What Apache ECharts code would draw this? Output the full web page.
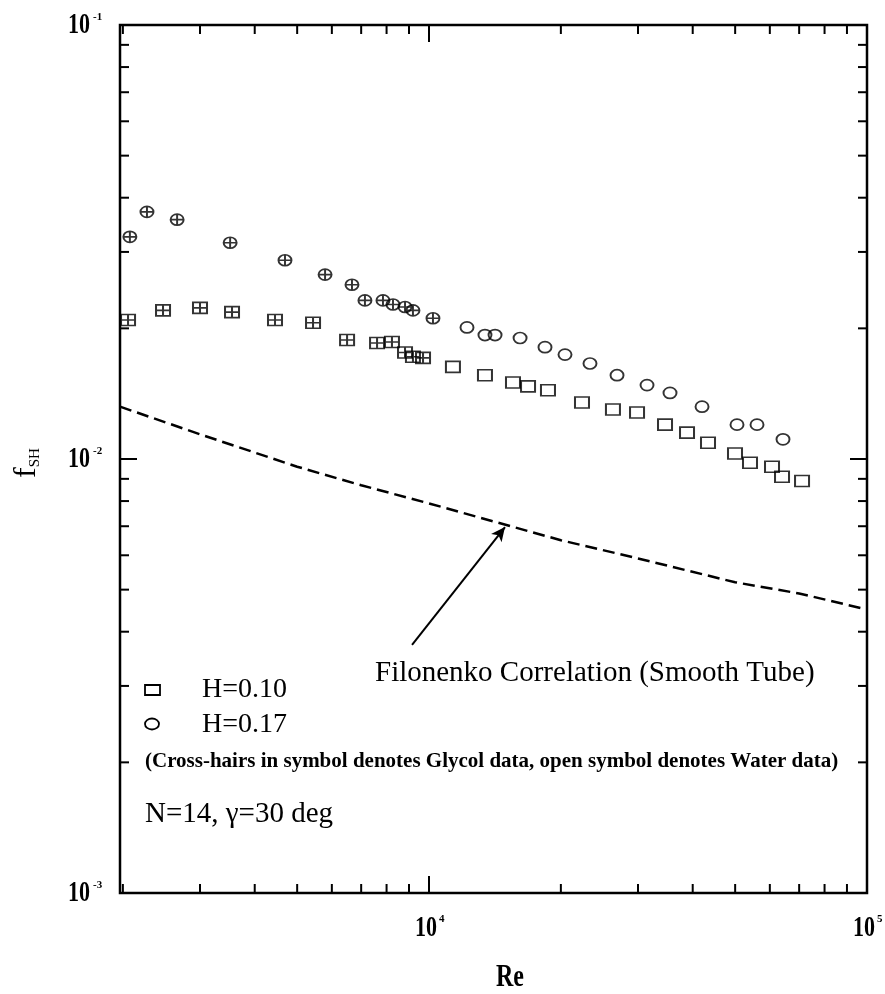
<!DOCTYPE html>
<html><head><meta charset="utf-8">
<script src="https://cdn.jsdelivr.net/npm/echarts@6/dist/echarts.min.js"></script>
<style>html,body{margin:0;padding:0;background:#fff}#c{width:885px;height:994px}</style>
</head><body><div id="c"></div>
<script>
// ---- data ----
const reH017Glycol = [2075, 2270, 2660, 3515, 4690, 5790, 6670, 7140, 7850, 8275, 8815, 9190, 10210];
const fH017Glycol  = [0.0325, 0.0371, 0.0356, 0.0315, 0.0287, 0.0266, 0.0252, 0.0232, 0.0232, 0.0227, 0.0224, 0.0220, 0.0211];
const reH017Water  = [12210, 13420, 14150, 16140, 18400, 20440, 23310, 26870, 31460, 35500, 42010, 50490, 56090, 64300];
const fH017Water   = [0.0201, 0.0193, 0.0193, 0.0190, 0.0181, 0.0174, 0.0166, 0.0156, 0.0148, 0.0142, 0.0132, 0.0120, 0.0120, 0.0111];
const reH010Glycol = [2055, 2470, 3000, 3550, 4450, 5435, 6500, 7610, 8230, 8815, 9190, 9690];
const fH010Glycol  = [0.0209, 0.0220, 0.0223, 0.0218, 0.0209, 0.0206, 0.0188, 0.0185, 0.0186, 0.0176, 0.0172, 0.0171];
const reH010Water  = [11340, 13420, 15550, 16830, 18690, 22350, 26300, 29850, 34580, 38820, 43350, 49960, 54060, 60690, 63970, 71070];
const fH010Water   = [0.0163, 0.0156, 0.0150, 0.0147, 0.0144, 0.0135, 0.0130, 0.0128, 0.0120, 0.0115, 0.0109, 0.0103, 0.0098, 0.0096, 0.0091, 0.0089];
const reFilonenko  = [1970, 3000, 5000, 7000, 10000, 20000, 30000, 50000, 70000, 100000];
const fFilonenko   = [0.0132, 0.0114, 0.0096, 0.0087, 0.0079, 0.0065, 0.0059, 0.0052, 0.0049, 0.0045];
const arrowFrom    = [9146, 0.00373];
const arrowTo      = [14910, 0.00697];

const xMajorTicks = [10000, 100000];
const xMinorTicks = [2000, 3000, 4000, 5000, 6000, 7000, 8000, 9000, 20000, 30000, 40000, 50000, 60000, 70000, 80000, 90000];
const yMajorTicks = [0.001, 0.01, 0.1];
const yMinorTicks = [0.002, 0.003, 0.004, 0.005, 0.006, 0.007, 0.008, 0.009, 0.02, 0.03, 0.04, 0.05, 0.06, 0.07, 0.08, 0.09];
const xTickValues = [10000, 100000];
const xTickExps   = ['4', '5'];
const yTickValues = [0.1, 0.01, 0.001];
const yTickExps   = ['-1', '-2', '-3'];

const X_MIN = 1970, X_MAX = 100000, Y_MIN = 0.001, Y_MAX = 0.1;
const FONT = '"Liberation Serif", "DejaVu Serif", serif';

const zip = (a, b) => a.map((v, i) => [v, b[i]]);
const crossCircle = 'path://M5,0A5,5,0,1,1,5,10A5,5,0,1,1,5,0Z M5,0L5,10 M0,5L10,5';
const crossSquare = 'path://M0,0L10,0L10,10L0,10Z M5,0L5,10 M0,5L10,5';
const markStyle = { color: 'rgba(0,0,0,0)', borderColor: '#000', borderWidth: 1.8 };

function txt(x, y, text, size, opts) {
  opts = opts || {};
  return {
    type: 'text', x: x, y: y, scaleX: opts.sx || 1, scaleY: opts.sy || 1, rotation: opts.rot || 0,
    style: {
      text: text, fill: '#000', fontSize: size, fontFamily: FONT, fontWeight: opts.bold ? 'bold' : 'normal',
      align: opts.align || 'left', textAlign: opts.align || 'left',
      verticalAlign: 'middle', textVerticalAlign: 'middle'
    }
  };
}

const chart = echarts.init(document.getElementById('c'), null, { renderer: 'canvas' });
chart.setOption({
  animation: false,
  backgroundColor: '#fff',
  grid: { left: 120, right: 18, top: 25, bottom: 101, show: true, borderColor: '#000', borderWidth: 2.5, backgroundColor: 'transparent' },
  xAxis: { type: 'log', min: X_MIN, max: X_MAX, logBase: 10,
    axisLine: { show: false }, axisTick: { show: false }, axisLabel: { show: false }, splitLine: { show: false } },
  yAxis: { type: 'log', min: Y_MIN, max: Y_MAX, logBase: 10,
    axisLine: { show: false }, axisTick: { show: false }, axisLabel: { show: false }, splitLine: { show: false } },
  graphic: [
    // axis titles
    txt(510, 978, 'Re', 24, { bold: true, align: 'center', sy: 1.3 }),
    {
      type: 'text', x: 27, y: 463, rotation: Math.PI / 2,
      style: { text: '{f|f}{s|SH}', align: 'center', textAlign: 'center', verticalAlign: 'middle', textVerticalAlign: 'middle',
        rich: { f: { fontSize: 32, fontFamily: FONT, fill: '#000' }, s: { fontSize: 15, fontFamily: FONT, fill: '#000', padding: [16, 0, 0, 0] } } }
    },
    // legend
    { type: 'rect', shape: { x: 145, y: 685, width: 15, height: 10 }, style: { fill: 'none', stroke: '#000', lineWidth: 1.8 } },
    { type: 'ellipse', shape: { cx: 152, cy: 724, rx: 7, ry: 5.5 }, style: { fill: 'none', stroke: '#000', lineWidth: 1.8 } },
    txt(202, 690, 'H=0.10', 28),
    txt(202, 725, 'H=0.17', 28),
    txt(145, 762, '(Cross-hairs in symbol denotes Glycol data, open symbol denotes Water data)', 21, { bold: true }),
    txt(145, 814, 'N=14, \u03b3=30 deg', 29),
    txt(375, 673, 'Filonenko Correlation (Smooth Tube)', 29)
  ],
  series: [
    { type: 'line', name: 'Filonenko', data: zip(reFilonenko, fFilonenko), symbol: 'none', smooth: false,
      lineStyle: { color: '#000', width: 2.5, type: [12, 6] }, z: 3,
      markLine: { silent: true, symbol: ['none', 'arrow'], symbolSize: [10, 14], label: { show: false },
        lineStyle: { color: '#000', width: 2, type: 'solid' },
        data: [[{ coord: arrowFrom }, { coord: arrowTo }]] } },
    { type: 'scatter', name: 'H=0.17 glycol', data: zip(reH017Glycol, fH017Glycol), symbol: crossCircle, symbolSize: [13, 11], itemStyle: markStyle },
    { type: 'scatter', name: 'H=0.17 water', data: zip(reH017Water, fH017Water), symbol: 'circle', symbolSize: [13, 11], itemStyle: markStyle },
    { type: 'scatter', name: 'H=0.10 glycol', data: zip(reH010Glycol, fH010Glycol), symbol: crossSquare, symbolSize: [14, 11], itemStyle: markStyle },
    { type: 'scatter', name: 'H=0.10 water', data: zip(reH010Water, fH010Water), symbol: 'rect', symbolSize: [14, 11], itemStyle: markStyle },
    // x ticks (bottom and top, inward)
    { type: 'custom', silent: true, z: 5,
      data: xMajorTicks.map(v => [v, Y_MIN, 1]).concat(xMinorTicks.map(v => [v, Y_MIN, 0])),
      renderItem: function (params, api) {
        const v = api.value(0), L = api.value(2) ? 17 : 9;
        const b = api.coord([v, Y_MIN]), t = api.coord([v, Y_MAX]);
        return { type: 'group', children: [
          { type: 'line', shape: { x1: b[0], y1: b[1], x2: b[0], y2: b[1] - L }, style: { stroke: '#000', lineWidth: 2 } },
          { type: 'line', shape: { x1: t[0], y1: t[1], x2: t[0], y2: t[1] + L }, style: { stroke: '#000', lineWidth: 2 } }
        ] };
      } },
    // y ticks (left and right, inward)
    { type: 'custom', silent: true, z: 5,
      data: yMajorTicks.map(v => [X_MIN, v, 1]).concat(yMinorTicks.map(v => [X_MIN, v, 0])),
      renderItem: function (params, api) {
        const v = api.value(1), L = api.value(2) ? 17 : 9;
        const l = api.coord([X_MIN, v]), r = api.coord([X_MAX, v]);
        return { type: 'group', children: [
          { type: 'line', shape: { x1: l[0], y1: l[1], x2: l[0] + L, y2: l[1] }, style: { stroke: '#000', lineWidth: 2 } },
          { type: 'line', shape: { x1: r[0], y1: r[1], x2: r[0] - L, y2: r[1] }, style: { stroke: '#000', lineWidth: 2 } }
        ] };
      } },
    // x tick labels
    { type: 'custom', silent: true, z: 5,
      data: xTickValues.map((v, i) => [v, Y_MIN, i]),
      renderItem: function (params, api) {
        const p = api.coord([api.value(0), Y_MIN]);
        const e = xTickExps[api.value(2)];
        return { type: 'group', children: [
          txt(p[0] - 3, p[1] + 35, '10', 22, { bold: true, align: 'center', sy: 1.35 }),
          txt(p[0] + 10, p[1] + 26, e, 11, { bold: true, align: 'left' })
        ] };
      } },
    // y tick labels
    { type: 'custom', silent: true, z: 5,
      data: yTickValues.map((v, i) => [X_MIN, v, i]),
      renderItem: function (params, api) {
        const p = api.coord([X_MIN, api.value(1)]);
        const e = yTickExps[api.value(2)];
        return { type: 'group', children: [
          txt(p[0] - 30, p[1], '10', 22, { bold: true, align: 'right', sy: 1.35 }),
          txt(p[0] - 27, p[1] - 8, e, 11, { bold: true, align: 'left' })
        ] };
      } }
  ]
});
</script></body></html>
